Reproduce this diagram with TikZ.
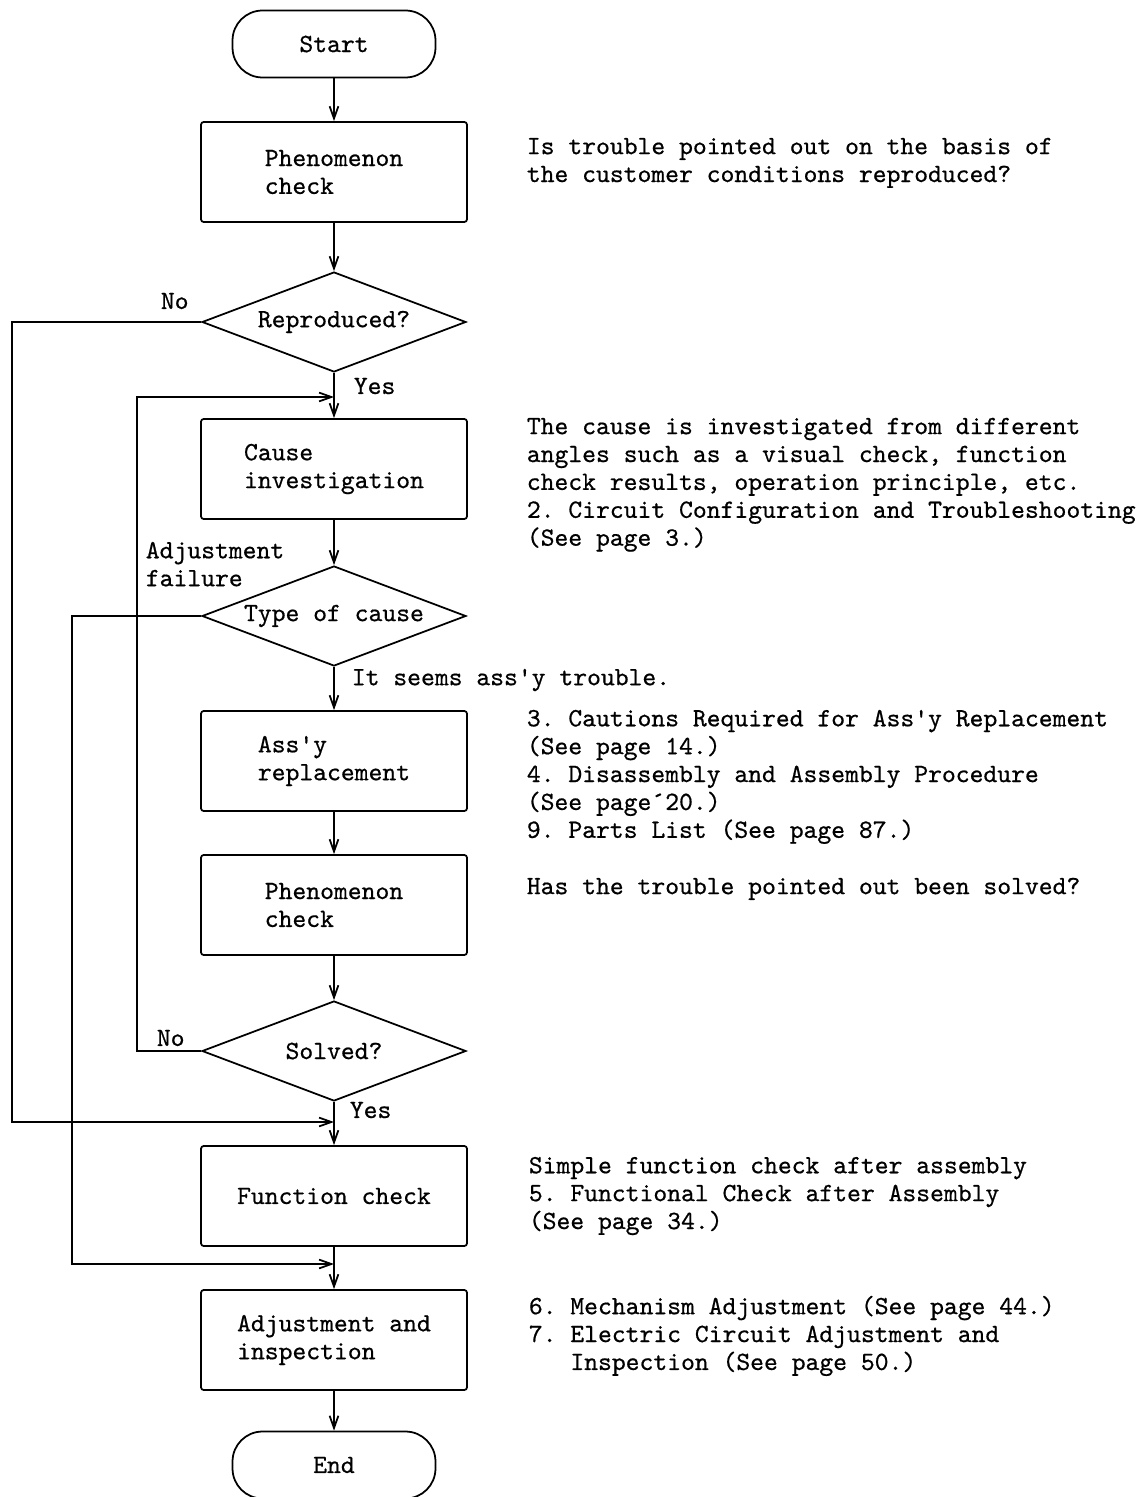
\documentclass[tikz,border=0pt]{standalone}
\usepackage{fontspec}
\setmonofont{lmmono10-regular.otf}[FakeBold=0.6]
\usetikzlibrary{arrows.meta,shapes.geometric}

\begin{document}
\begin{tikzpicture}[x=0.02cm,y=-0.02cm,line width=1pt,
  every node/.style={font=\ttfamily\fontsize{15}{15.87}\selectfont},
  arr/.style={-{Straight Barb[length=7pt,width=5pt]}},
  term/.style={draw,rounded corners=0.6cm,minimum width=4.06cm,minimum height=1.34cm},
  box/.style={draw,rounded corners=1.5pt,minimum width=5.32cm,minimum height=2cm,align=left},
  decision/.style={draw,diamond,aspect=2.64,minimum width=5.28cm,minimum height=2cm,inner sep=0pt},
  note/.style={anchor=north west,align=left,inner sep=0pt},
  tag/.style={anchor=west,inner sep=0pt}]
\useasboundingbox (0,0) rectangle (1137,1497);
\node[term] (start) at (334,44) {Start};
\node[box] (chk1) at (334,172) {Phenomenon\\check};
\node[decision] (rep) at (334,322) {Reproduced?};
\node[box] (cause) at (334,469) {Cause\\investigation};
\node[decision] (type) at (334,616) {Type of cause};
\node[box] (assy) at (334,761) {Ass'y\\replacement};
\node[box] (chk2) at (334,905) {Phenomenon\\check};
\node[decision] (solved) at (334,1051) {Solved?};
\node[box] (func) at (334,1196) {Function check};
\node[box] (adj) at (334,1340) {Adjustment and\\inspection};
\node[term] (stop) at (334,1465) {End};
\coordinate (j1) at (334,397);
\coordinate (j3) at (334,1122);
\coordinate (j2) at (334,1264);
\draw[arr] (start) -- (chk1);
\draw[arr] (chk1) -- (rep);
\draw[arr] (rep) -- (cause);
\draw[arr] (cause) -- (type);
\draw[arr] (type) -- (assy);
\draw[arr] (assy) -- (chk2);
\draw[arr] (chk2) -- (solved);
\draw[arr] (solved) -- (func);
\draw[arr] (func) -- (adj);
\draw[arr] (adj) -- (stop);
\draw[arr] (rep.west) -- ++(-189,0) |- (j3);
\draw[arr] (solved.west) -- ++(-64,0) |- (j1);
\draw[arr] (type.west) -- ++(-129,0) |- (j2);
\node[tag] (no1) at (160,301) {No};
\node[tag] (yes1) at (353,386) {Yes};
\node[note] (fail) at (145,541) {Adjustment\\failure};
\node[tag] (assytr) at (351,680) {It seems ass'y trouble.};
\node[tag] (no2) at (156,1038) {No};
\node[tag] (yes2) at (349,1110) {Yes};
\node[note] (n1) at (526,137) {Is trouble pointed out on the basis of\\the customer conditions reproduced?};
\node[note] (n2) at (526,417) {The cause is investigated from different\\angles such as a visual check, function\\check results, operation principle, etc.\\2. Circuit Configuration and Troubleshooting\\(See page 3.)};
\node[note] (n3) at (526,709) {3. Cautions Required for Ass'y Replacement\\(See page 14.)\\4. Disassembly and Assembly Procedure\\(See page´20.)\\9. Parts List (See page 87.)};
\node[note] (n4) at (526,877) {Has the trouble pointed out been solved?};
\node[note] (n5) at (528,1156) {Simple function check after assembly\\5. Functional Check after Assembly\\(See page 34.)};
\node[note] (n6) at (528,1295) {6. Mechanism Adjustment (See page 44.)\\7. Electric Circuit Adjustment and\\\phantom{7. }Inspection (See page 50.)};
\end{tikzpicture}
\end{document}
